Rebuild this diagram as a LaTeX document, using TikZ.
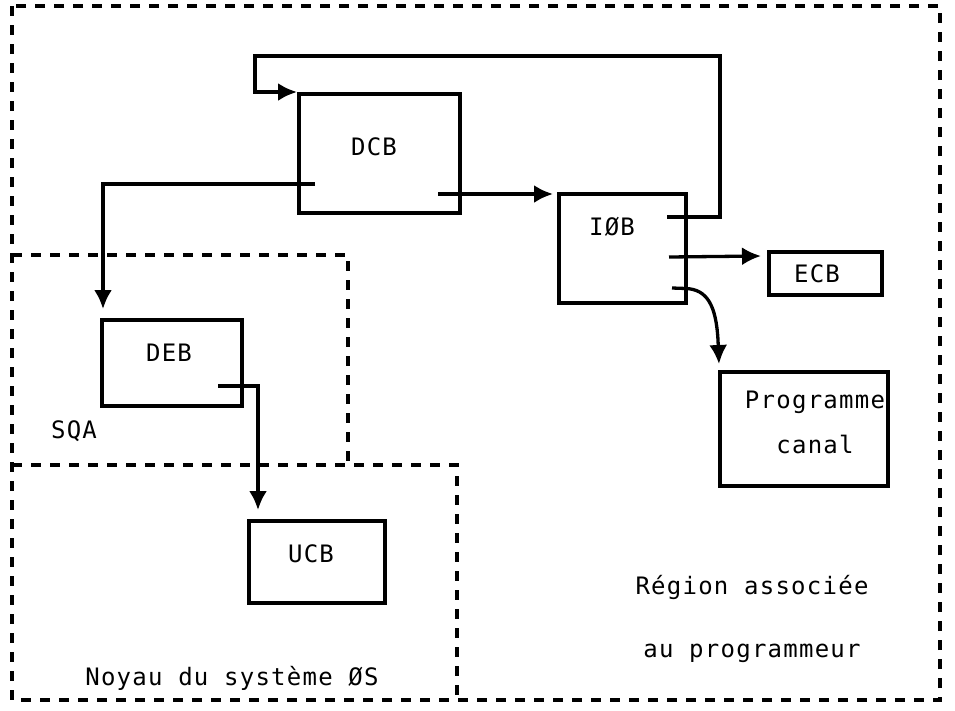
\documentclass[tikz,border=0pt]{standalone}
\usepackage{fontspec}
\setmonofont{DejaVu Sans Mono}[LetterSpace=5.2]
\usetikzlibrary{arrows.meta}
\begin{document}
\begin{tikzpicture}[x=1pt,y=-1pt,
  box/.style={draw, line width=3.3pt, inner sep=0pt, outer sep=0pt},
  lab/.style={font=\ttfamily\fontsize{24}{30}\selectfont, inner sep=0pt},
  region/.style={line width=3.3pt, dash pattern=on 10pt off 9pt},
  link/.style={line width=3.3pt, -{Latex[length=19pt,width=18pt]}},
  ]
\useasboundingbox[fill=white] (0,0) rectangle (955,710);

% regions
\draw[region] (12,6) rectangle (940,700);
\draw[region] (12,255) -- (348,255) -- (348,465);
\draw[region] (12,465) -- (457,465) -- (457,700);

% boxes
\node[box, minimum width=161pt, minimum height=119pt] (dcb) at (379.5,153.5) {};
\node[box, minimum width=127pt, minimum height=109pt] (iob) at (622.5,248.5) {};
\node[box, minimum width=113pt, minimum height=43pt] (ecb) at (825.5,273.5) {};
\node[box, minimum width=168pt, minimum height=114pt] (prog) at (804,429) {};
\node[box, minimum width=140pt, minimum height=86pt] (deb) at (172,363) {};
\node[box, minimum width=136pt, minimum height=82pt] (ucb) at (317,562) {};

% labels
\node[lab] (dcbT) at (374,147) {DCB};
\node[lab] (iobT) at (612,227) {IØB};
\node[lab] (ecbT) at (817,274) {ECB};
\node[lab, align=center, font=\ttfamily\fontsize{24}{45}\selectfont] (progT) at (815,422.5) {Programme\\canal};
\node[lab] (debT) at (169,353) {DEB};
\node[lab] (ucbT) at (311,554) {UCB};
\node[lab] (sqaT) at (74,431) {SQA};
\node[lab] (noyT) at (232,678) {Noyau du système ØS};
\node[lab, align=center, font=\ttfamily\fontsize{24}{63}\selectfont] (regT) at (752,618.5) {Région associée\\au programmeur};

% connector points
\coordinate (iobA) at (667,217);
\coordinate (iobB) at (669,257);
\coordinate (iobC) at (672,288);
\coordinate (dcbL) at (315,184);
\coordinate (dcbR) at (438,194);
\coordinate (debR) at (218,386);
\coordinate (fb1) at (720,56);
\coordinate (fb2) at (255,56);
\coordinate (fbEnd) at (297,92);
\coordinate (iobIn) at (553,194);
\coordinate (ecbIn) at (761,256);
\coordinate (progIn) at (719,364);
\coordinate (debIn) at (103,309);
\coordinate (ucbIn) at (258,510);

% connectors
\draw[link] (iobA) -| (fb1) -| (fb2) |- (fbEnd);
\draw[link] (dcbL) -| (debIn);
\draw[link] (dcbR) -- (iobIn);
\draw[link] (iobB) -- (ecbIn);
\draw[link] (iobC) -- (686,288.5) .. controls (707,289.5) and (716,305) .. (718,340) -- (progIn);
\draw[link] (debR) -| (ucbIn);
\end{tikzpicture}
\end{document}
